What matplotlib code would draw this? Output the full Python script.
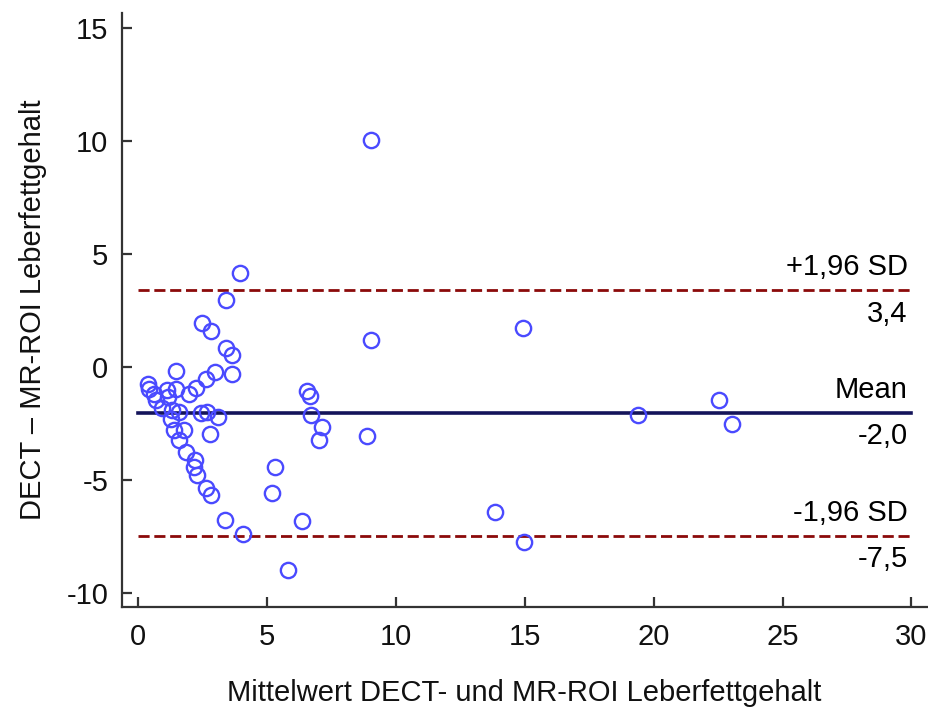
import matplotlib
matplotlib.use('Agg')
import matplotlib.pyplot as plt

plt.rcParams['font.family'] = ['Liberation Sans', 'DejaVu Sans']
plt.rcParams['axes.unicode_minus'] = False

# Bland-Altman data: mean of both methods vs. difference
mean_vals = [9.05, 3.97, 3.41, 2.50, 2.83, 3.41, 3.66, 3.66, 2.99, 2.66,
             2.25, 1.99, 1.48, 0.38, 0.45, 0.64, 0.71, 1.15, 1.48, 1.19,
             0.96, 1.32, 1.60, 1.28, 1.41, 1.80, 1.60, 1.86, 2.22, 2.18,
             2.31, 2.63, 2.83, 2.44, 2.70, 3.12, 2.80, 3.37, 4.09, 9.05,
             14.94, 6.56, 6.69, 6.72, 7.16, 7.03, 8.87, 5.34, 5.21, 6.36,
             5.81, 13.85, 14.98, 19.39, 22.53, 23.06]
diff_vals = [10.07, 4.18, 2.99, 1.96, 1.60, 0.87, 0.53, -0.31, -0.21, -0.50,
             -0.90, -1.19, -0.16, -0.72, -0.94, -1.16, -1.43, -1.02, -0.98, -1.31,
             -1.82, -1.87, -1.97, -2.27, -2.78, -2.78, -3.22, -3.74, -4.08, -4.40,
             -4.77, -5.36, -5.65, -2.04, -1.97, -2.19, -2.93, -6.75, -7.37, 1.19,
             1.74, -1.05, -1.28, -2.12, -2.66, -3.22, -3.03, -4.43, -5.55, -6.80,
             -8.96, -6.39, -7.74, -2.12, -1.43, -2.49]

mean_diff = -2.0
upper_loa = 3.4
lower_loa = -7.5

fig = plt.figure(figsize=(9.29, 7.18), dpi=100)
ax = fig.add_axes([0.1316, 0.155, 0.8662, 0.827])

ax.plot([0, 30], [mean_diff, mean_diff], color='#14145a', lw=2.6, zorder=2)
ax.plot([0, 30], [upper_loa, upper_loa], color='#8b0a0a', lw=2, ls=(0, (4, 1.7)), zorder=2)
ax.plot([0, 30], [-7.45, -7.45], color='#8b0a0a', lw=2, ls=(0, (4, 1.7)), zorder=2)

ax.plot(mean_vals, diff_vals, 'o', ms=11, mfc='none', mec='#4a4aff', mew=1.7, zorder=3)

fs = 21
ax.text(29.85, upper_loa + 0.4, '+1,96 SD', ha='right', va='bottom', fontsize=fs)
ax.text(29.85, upper_loa - 0.4, '3,4', ha='right', va='top', fontsize=fs)
ax.text(29.85, mean_diff + 0.4, 'Mean', ha='right', va='bottom', fontsize=fs)
ax.text(29.85, mean_diff - 0.4, '-2,0', ha='right', va='top', fontsize=fs)
ax.text(29.85, -7.45 + 0.4, '-1,96 SD', ha='right', va='bottom', fontsize=fs)
ax.text(29.85, -7.45 - 0.4, '-7,5', ha='right', va='top', fontsize=fs)

ax.set_xlim(-0.6, 30.6)
ax.set_ylim(-10.59, 15.68)
ax.set_xticks([0, 5, 10, 15, 20, 25, 30])
ax.set_yticks([-10, -5, 0, 5, 10, 15])
ax.tick_params(direction='in', length=7, width=1.6, labelsize=fs, colors='#333333',
               labelcolor='#111111')
ax.tick_params(axis='y', pad=10)
ax.tick_params(axis='x', pad=12)
for s in ['top', 'right']:
    ax.spines[s].set_visible(False)
for s in ['left', 'bottom']:
    ax.spines[s].set_linewidth(1.6)
    ax.spines[s].set_color('#333333')

ax.set_xlabel('Mittelwert DECT- und MR-ROI Leberfettgehalt', fontsize=fs, labelpad=20,
              color='#111111')
ax.set_ylabel('DECT – MR-ROI Leberfettgehalt', fontsize=fs, labelpad=14, color='#111111')

fig.savefig('out.png', dpi=100)
